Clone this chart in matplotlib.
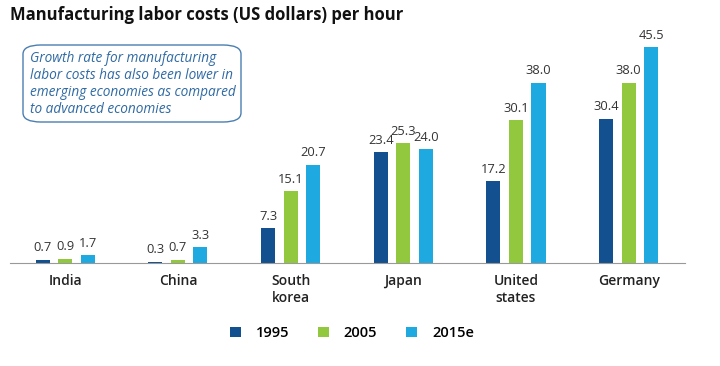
import matplotlib.pyplot as plt
from matplotlib.patches import FancyBboxPatch
import numpy as np

plt.rcParams['font.family'] = ['Open Sans', 'DejaVu Sans']

COUNTRIES = ['India', 'China', 'South\nkorea', 'Japan', 'United\nstates', 'Germany']
YEARS = ['1995', '2005', '2015e']
COST_1995 = [0.7, 0.3, 7.3, 23.4, 17.2, 30.4]
COST_2005 = [0.9, 0.7, 15.1, 25.3, 30.1, 38.0]
COST_2015 = [1.7, 3.3, 20.7, 24.0, 38.0, 45.5]
COLORS = ['#12508f', '#92c83e', '#1fa9e1']


def main() -> None:
    fig = plt.figure(figsize=(7.2, 3.66), dpi=100)
    # baseline at 263 px from top, about 4.75 px per dollar
    ax = fig.add_axes([10 / 720, 103 / 366, 675 / 720, 233 / 366])

    x = np.arange(len(COUNTRIES))
    offsets = [-0.2, 0.0, 0.2]
    series = [COST_1995, COST_2005, COST_2015]
    for values, off, color, label in zip(series, offsets, COLORS, YEARS):
        bars = ax.bar(x + off, values, width=0.125, color=color, label=label)
        for rect, v in zip(bars, values):
            ax.text(rect.get_x() + rect.get_width() / 2, v + 1.1, f'{v:.1f}',
                    ha='center', va='bottom', fontsize=9.3, color='#333333')

    ax.set_xlim(-0.49, 5.5)
    ax.set_ylim(0, 233 / 4.75)
    ax.set_xticks(x)
    ax.set_xticklabels(COUNTRIES, fontsize=10, fontweight='semibold', color='#222222',
                       linespacing=1.3)
    ax.tick_params(axis='x', length=0, pad=8)
    ax.set_yticks([])
    for side in ['top', 'right', 'left']:
        ax.spines[side].set_visible(False)
    ax.spines['bottom'].set_color('#999999')

    fig.text(10 / 720, 1 - 15 / 366, 'Manufacturing labor costs (US dollars) per hour',
             fontsize=12, fontweight='bold', va='center', ha='left', color='#111111')

    box = FancyBboxPatch((23 / 720, 1 - 122 / 366), 218 / 720, 77 / 366,
                         boxstyle='round,pad=0,rounding_size=0.025',
                         transform=fig.transFigure, facecolor='white',
                         edgecolor='#4a7fb0', linewidth=1.0, zorder=5)
    fig.patches.append(box)
    fig.text(30 / 720, 1 - 84 / 366,
             'Growth rate for manufacturing\nlabor costs has also been lower in\n'
             'emerging economies as compared\nto advanced economies',
             fontsize=9.8, style='italic', color='#2f6aa3', va='center', ha='left',
             linespacing=1.2, zorder=6)

    fig.legend(loc='center', bbox_to_anchor=(352 / 720, 1 - 333 / 366), ncol=3,
               frameon=False, handlelength=0.75, handleheight=0.75,
               columnspacing=2.0, handletextpad=1.0,
               prop={'weight': 'semibold', 'size': 10.5})

    fig.savefig('out.png', dpi=100)


if __name__ == '__main__':
    main()
